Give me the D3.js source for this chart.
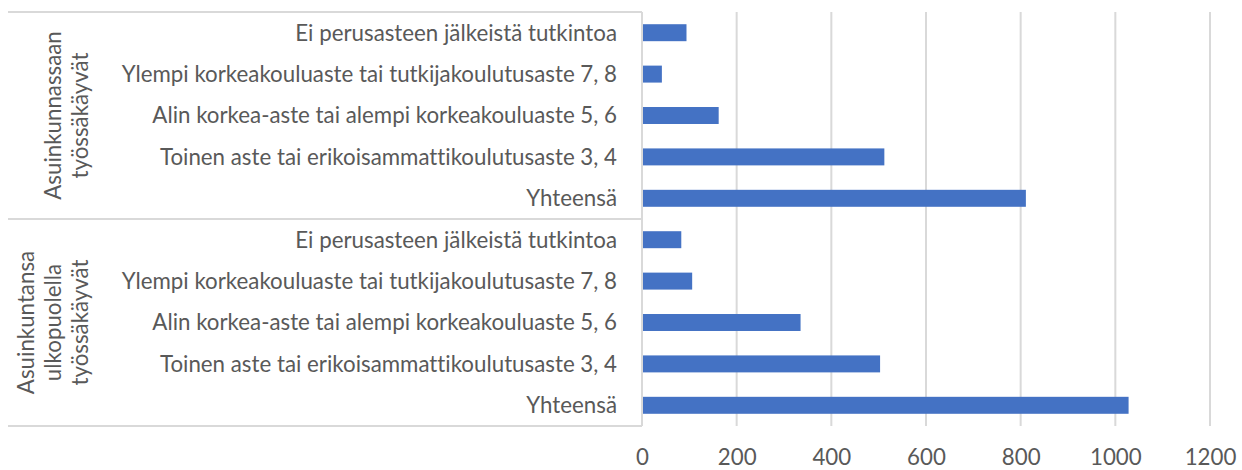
<!DOCTYPE html>
<html>
<head>
<meta charset="utf-8">
<script src="https://cdn.jsdelivr.net/npm/d3@7"></script>
<style>
  html, body { margin: 0; padding: 0; background: #fff; }
  svg { display: block; }
  text { font-family: Lato, "Open Sans", sans-serif; fill: #595959; font-variant-ligatures: none; }
</style>
</head>
<body>
<svg id="chart" width="1242" height="470"></svg>
<script>
// ---- data ----
const groupLabels = [
  ["Asuinkunnassaan", "työssäkäyvät"],
  ["Asuinkuntansa", "ulkopuolella", "työssäkäyvät"]
];
const categories = [
  "Ei perusasteen jälkeistä tutkintoa",
  "Ylempi korkeakouluaste tai tutkijakoulutusaste 7, 8",
  "Alin korkea-aste tai alempi korkeakouluaste 5, 6",
  "Toinen aste tai erikoisammattikoulutusaste 3, 4",
  "Yhteensä"
];
const valuesGroup1 = [94, 42, 162, 512, 811];
const valuesGroup2 = [83, 106, 335, 503, 1028];
const tickValues = [0, 200, 400, 600, 800, 1000, 1200];

// ---- layout ----
const svg = d3.select("#chart");
const plotLeft = 642, plotRight = 1210, plotTop = 12, plotBottom = 426;
const axisLeft = 8;
const gridColor = "#d9d9d9";
const barColor = "#4472C4";

const rows = [];
[valuesGroup1, valuesGroup2].forEach((vals, g) => {
  categories.forEach((c, i) => rows.push({ key: g + "|" + i, group: g, cat: c, value: vals[i] }));
});

const x = d3.scaleLinear().domain([0, 1200]).range([plotLeft, plotRight]);
const y = d3.scaleBand().domain(rows.map(r => r.key)).range([plotTop, plotBottom]).padding(0);

// font fit
const probe = svg.append("text").style("font-size", "20px").text(categories[0]);
const len = probe.node().getComputedTextLength();
probe.remove();
const fs = 20 * 322 / len;

// gridlines
svg.append("g").selectAll("line").data(tickValues.filter(t => t > 0)).join("line")
  .attr("x1", d => x(d)).attr("x2", d => x(d))
  .attr("y1", plotTop).attr("y2", plotBottom)
  .attr("stroke", gridColor).attr("stroke-width", 2);

// bars
const barH = y.bandwidth() * 0.41;
svg.append("g").selectAll("rect").data(rows).join("rect")
  .attr("x", x(0))
  .attr("y", d => y(d.key) + (y.bandwidth() - barH) / 2)
  .attr("width", d => x(d.value) - x(0))
  .attr("height", barH)
  .attr("fill", barColor);

// category axis line
svg.append("line")
  .attr("x1", plotLeft).attr("x2", plotLeft)
  .attr("y1", plotTop).attr("y2", plotBottom)
  .attr("stroke", gridColor).attr("stroke-width", 2);

// group separators
const sepYs = [plotTop, y(rows[5].key), plotBottom];
svg.append("g").selectAll("line").data(sepYs).join("line")
  .attr("x1", axisLeft).attr("x2", plotLeft)
  .attr("y1", d => d).attr("y2", d => d)
  .attr("stroke", gridColor).attr("stroke-width", 2);

// category labels
svg.append("g").selectAll("text").data(rows).join("text")
  .attr("x", plotLeft - 25)
  .attr("y", d => y(d.key) + y.bandwidth() / 2)
  .attr("dy", "0.35em")
  .attr("text-anchor", "end")
  .style("font-size", fs + "px")
  .text(d => d.cat);

// group labels (rotated)
groupLabels.forEach((lines, g) => {
  const y0 = y(rows[g * 5].key), y1 = y(rows[g * 5 + 4].key) + y.bandwidth();
  const cy = (y0 + y1) / 2;
  const lastX = 88, spacing = 27;
  lines.forEach((ln, i) => {
    const bx = lastX - (lines.length - 1 - i) * spacing;
    svg.append("text")
      .attr("transform", `translate(${bx},${cy}) rotate(-90)`)
      .attr("text-anchor", "middle")
      .style("font-size", fs + "px")
      .text(ln);
  });
});

// value axis
const xAxis = d3.axisBottom(x).tickValues(tickValues).tickSize(0).tickPadding(0).tickFormat(d3.format("d"));
const ax = svg.append("g").attr("transform", `translate(0,${plotBottom})`).call(xAxis);
ax.select(".domain").remove();
ax.selectAll("text")
  .attr("y", 39).attr("dy", null)
  .style("font-size", fs + "px")
  .style("font-family", "Lato, sans-serif")
  .attr("fill", "#595959");
</script>
</body>
</html>
